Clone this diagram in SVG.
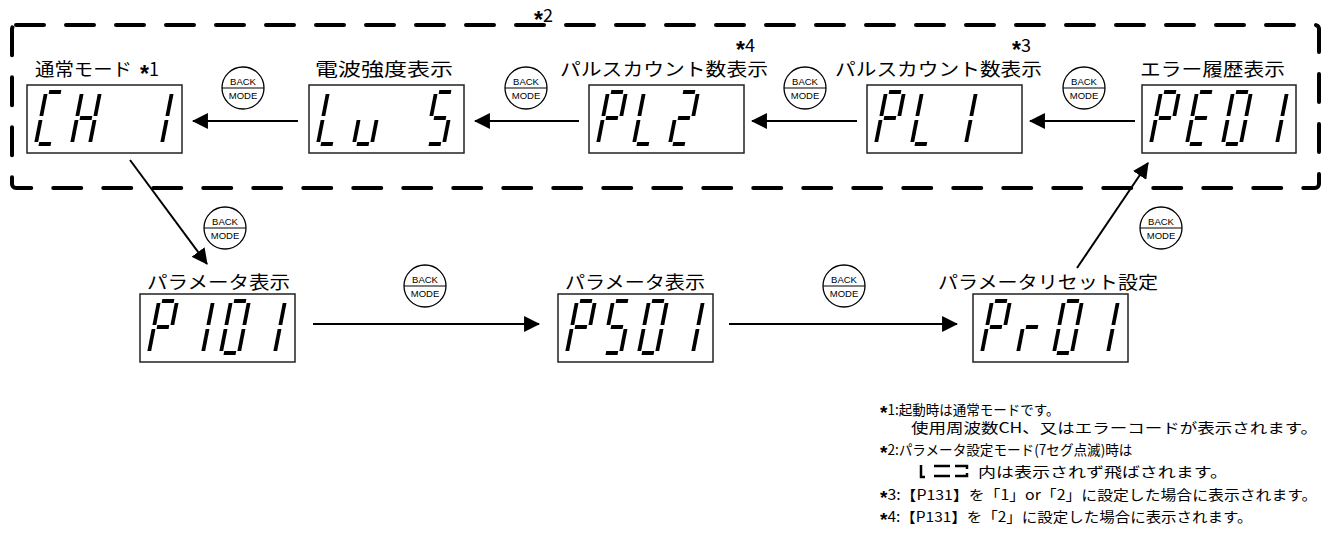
<svg xmlns="http://www.w3.org/2000/svg" xmlns:xlink="http://www.w3.org/1999/xlink" width="1330" height="548" viewBox="0 0 1330 548">
<style>
.seg{stroke:#000;stroke-width:3.8;fill:none;stroke-linecap:butt}
.box{fill:#fff;stroke:#222;stroke-width:1.5}
.lbl{font-family:"Noto Sans CJK JP","Liberation Sans",sans-serif;font-size:18px;fill:#000}
.note{font-family:"Noto Sans CJK JP","Liberation Sans",sans-serif;font-size:14px;fill:#000}
.ast{font-family:"Liberation Sans",Arial,sans-serif;font-size:23px;font-weight:bold}
.nast{font-family:"Liberation Sans",Arial,sans-serif;font-size:19px;font-weight:bold}
.conn{stroke:#000;stroke-width:2;fill:none}
.bmt{font-family:"Liberation Sans",Arial,sans-serif;font-size:9.5px;text-anchor:middle;fill:#000}
</style>
<defs>
<marker id="ah" markerUnits="userSpaceOnUse" markerWidth="16" markerHeight="16" viewBox="0 0 15 15" refX="14" refY="7.5" orient="auto"><path d="M0,0 L15,7.5 L0,15 z" fill="#000"/></marker>
<path id="sa" class="seg" d="M3,0H15"/>
<path id="sb" class="seg" d="M18,2V24"/>
<path id="sc" class="seg" d="M18,28V50"/>
<path id="sd" class="seg" d="M3,52H15"/>
<path id="se" class="seg" d="M0,28V50"/>
<path id="sf" class="seg" d="M0,2V24"/>
<path id="sg" class="seg" d="M3,26H15"/>
<g id="d0"><use href="#sa"/><use href="#sb"/><use href="#sc"/><use href="#sd"/><use href="#se"/><use href="#sf"/></g>
<g id="d1"><use href="#sb"/><use href="#sc"/></g>
<g id="d2"><use href="#sa"/><use href="#sb"/><use href="#sg"/><use href="#se"/><use href="#sd"/></g>
<g id="d5"><use href="#sa"/><use href="#sf"/><use href="#sg"/><use href="#sc"/><use href="#sd"/></g>
<g id="dC"><use href="#sa"/><use href="#sf"/><use href="#se"/><use href="#sd"/></g>
<g id="dH"><use href="#sf"/><use href="#se"/><use href="#sb"/><use href="#sc"/><use href="#sg"/></g>
<g id="dL"><use href="#sf"/><use href="#se"/><use href="#sd"/></g>
<g id="du"><use href="#se"/><use href="#sd"/><use href="#sc"/></g>
<g id="dP"><use href="#sa"/><use href="#sb"/><use href="#sf"/><use href="#sg"/><use href="#se"/></g>
<g id="dE"><use href="#sa"/><use href="#sf"/><use href="#sg"/><use href="#se"/><use href="#sd"/></g>
<g id="dr"><use href="#se"/><use href="#sg"/></g>
<g id="bm">
<circle cx="0" cy="0" r="21" fill="#fff" stroke="#000" stroke-width="1.3"/>
<line x1="-21" y1="0" x2="21" y2="0" stroke="#000" stroke-width="1.2"/>
<text class="bmt" x="0" y="-3">BACK</text>
<text class="bmt" x="0" y="11">MODE</text>
</g>
</defs>
<rect width="1330" height="548" fill="#fff"/>

<!-- dashed group border -->
<g id="group-border">
<rect x="12" y="25" width="1307" height="163" rx="4" fill="none" stroke="#000" stroke-width="4" stroke-dasharray="28 22" stroke-linecap="round"/>
<text class="lbl" x="534" y="22"><tspan class="ast" dy="6">*</tspan><tspan dy="-6">2</tspan></text>
</g>

<!-- connectors -->
<g id="connectors">
<path class="conn" d="M298,121H193" marker-end="url(#ah)"/>
<path class="conn" d="M579,121H475" marker-end="url(#ah)"/>
<path class="conn" d="M857,121H752" marker-end="url(#ah)"/>
<path class="conn" d="M1135,121H1030" marker-end="url(#ah)"/>
<path class="conn" d="M130,160L207,264" marker-end="url(#ah)"/>
<path class="conn" d="M313,324H539" marker-end="url(#ah)"/>
<path class="conn" d="M729,324H957" marker-end="url(#ah)"/>
<path class="conn" d="M1077,268L1148,163" marker-end="url(#ah)"/>
<use href="#bm" x="243" y="88"/>
<use href="#bm" x="526" y="88"/>
<use href="#bm" x="805" y="88"/>
<use href="#bm" x="1084" y="88"/>
<use href="#bm" x="225" y="228"/>
<use href="#bm" x="425" y="286"/>
<use href="#bm" x="844" y="286"/>
<use href="#bm" x="1161" y="228"/>
</g>

<!-- top row -->
<g id="node-ch1">
<text class="lbl" x="35" y="76"><tspan textLength="97" lengthAdjust="spacingAndGlyphs">通常モード</tspan> <tspan class="ast" x="140" dy="6">*</tspan><tspan dy="-6">1</tspan></text>
<rect class="box" x="27" y="85" width="155" height="68"/>
<use href="#dC" transform="translate(46,92) skewX(-11)"/>
<use href="#dH" transform="translate(82,92) skewX(-11)"/>
<use href="#d1" transform="translate(154,92) skewX(-11)"/>
</g>
<g id="node-lus">
<text class="lbl" x="315" y="76" textLength="138" lengthAdjust="spacingAndGlyphs">電波強度表示</text>
<rect class="box" x="309" y="85" width="155" height="68"/>
<use href="#dL" transform="translate(328,92) skewX(-11)"/>
<use href="#du" transform="translate(364,92) skewX(-11)"/>
<use href="#d5" transform="translate(436,92) skewX(-11)"/>
</g>
<g id="node-pl2">
<text class="lbl" x="736" y="52"><tspan class="ast" dy="6">*</tspan><tspan dy="-6">4</tspan></text>
<text class="lbl" x="560" y="76" textLength="208" lengthAdjust="spacingAndGlyphs">パルスカウント数表示</text>
<rect class="box" x="589" y="85" width="155" height="68"/>
<use href="#dP" transform="translate(608,92) skewX(-11)"/>
<use href="#dL" transform="translate(644,92) skewX(-11)"/>
<use href="#d2" transform="translate(680,92) skewX(-11)"/>
</g>
<g id="node-pl1">
<text class="lbl" x="1012" y="52"><tspan class="ast" dy="6">*</tspan><tspan dy="-6">3</tspan></text>
<text class="lbl" x="835" y="76" textLength="207" lengthAdjust="spacingAndGlyphs">パルスカウント数表示</text>
<rect class="box" x="867" y="85" width="155" height="68"/>
<use href="#dP" transform="translate(886,92) skewX(-11)"/>
<use href="#dL" transform="translate(922,92) skewX(-11)"/>
<use href="#d1" transform="translate(958,92) skewX(-11)"/>
</g>
<g id="node-pe01">
<text class="lbl" x="1140" y="76" textLength="145" lengthAdjust="spacingAndGlyphs">エラー履歴表示</text>
<rect class="box" x="1142" y="85" width="154" height="68"/>
<use href="#dP" transform="translate(1161,92) skewX(-11)"/>
<use href="#dE" transform="translate(1197,92) skewX(-11)"/>
<use href="#d0" transform="translate(1233,92) skewX(-11)"/>
<use href="#d1" transform="translate(1269,92) skewX(-11)"/>
</g>

<!-- bottom row -->
<g id="node-p101">
<text class="lbl" x="147" y="289" textLength="143" lengthAdjust="spacingAndGlyphs">パラメータ表示</text>
<rect class="box" x="140" y="294" width="155" height="68"/>
<use href="#dP" transform="translate(159,301) skewX(-11)"/>
<use href="#d1" transform="translate(195,301) skewX(-11)"/>
<use href="#d0" transform="translate(231,301) skewX(-11)"/>
<use href="#d1" transform="translate(267,301) skewX(-11)"/>
</g>
<g id="node-ps01">
<text class="lbl" x="565" y="289" textLength="140" lengthAdjust="spacingAndGlyphs">パラメータ表示</text>
<rect class="box" x="558" y="294" width="155" height="68"/>
<use href="#dP" transform="translate(577,301) skewX(-11)"/>
<use href="#d5" transform="translate(613,301) skewX(-11)"/>
<use href="#d0" transform="translate(649,301) skewX(-11)"/>
<use href="#d1" transform="translate(685,301) skewX(-11)"/>
</g>
<g id="node-pr01">
<text class="lbl" x="938" y="289" textLength="220" lengthAdjust="spacingAndGlyphs">パラメータリセット設定</text>
<rect class="box" x="973" y="294" width="155" height="68"/>
<use href="#dP" transform="translate(992,301) skewX(-11)"/>
<use href="#dr" transform="translate(1028,301) skewX(-11)"/>
<use href="#d0" transform="translate(1064,301) skewX(-11)"/>
<use href="#d1" transform="translate(1100,301) skewX(-11)"/>
</g>

<!-- notes -->
<g id="notes">
<text class="note" x="880" y="415"><tspan class="nast" dy="4">*</tspan><tspan dy="-4" textLength="172" lengthAdjust="spacingAndGlyphs">1:起動時は通常モードです。</tspan></text>
<text class="note" x="911" y="433" textLength="407" lengthAdjust="spacingAndGlyphs">使用周波数CH、又はエラーコードが表示されます。</text>
<text class="note" x="880" y="455"><tspan class="nast" dy="4">*</tspan><tspan dy="-4" textLength="245" lengthAdjust="spacingAndGlyphs">2:パラメータ設定モード(7セグ点滅)時は</tspan></text>
<path d="M921,465V477H925M934,466H950M934,476H950M955,466H967V469M955,476H967V473" fill="none" stroke="#000" stroke-width="2.5"/>
<text class="note" x="978" y="477" textLength="250" lengthAdjust="spacingAndGlyphs">内は表示されず飛ばされます。</text>
<text class="note" x="880" y="500"><tspan class="nast" dy="4">*</tspan><tspan dy="-4" textLength="430" lengthAdjust="spacingAndGlyphs">3:【P131】を「1」or「2」に設定した場合に表示されます。</tspan></text>
<text class="note" x="880" y="522"><tspan class="nast" dy="4">*</tspan><tspan dy="-4" textLength="365" lengthAdjust="spacingAndGlyphs">4:【P131】を「2」に設定した場合に表示されます。</tspan></text>
</g>
</svg>
